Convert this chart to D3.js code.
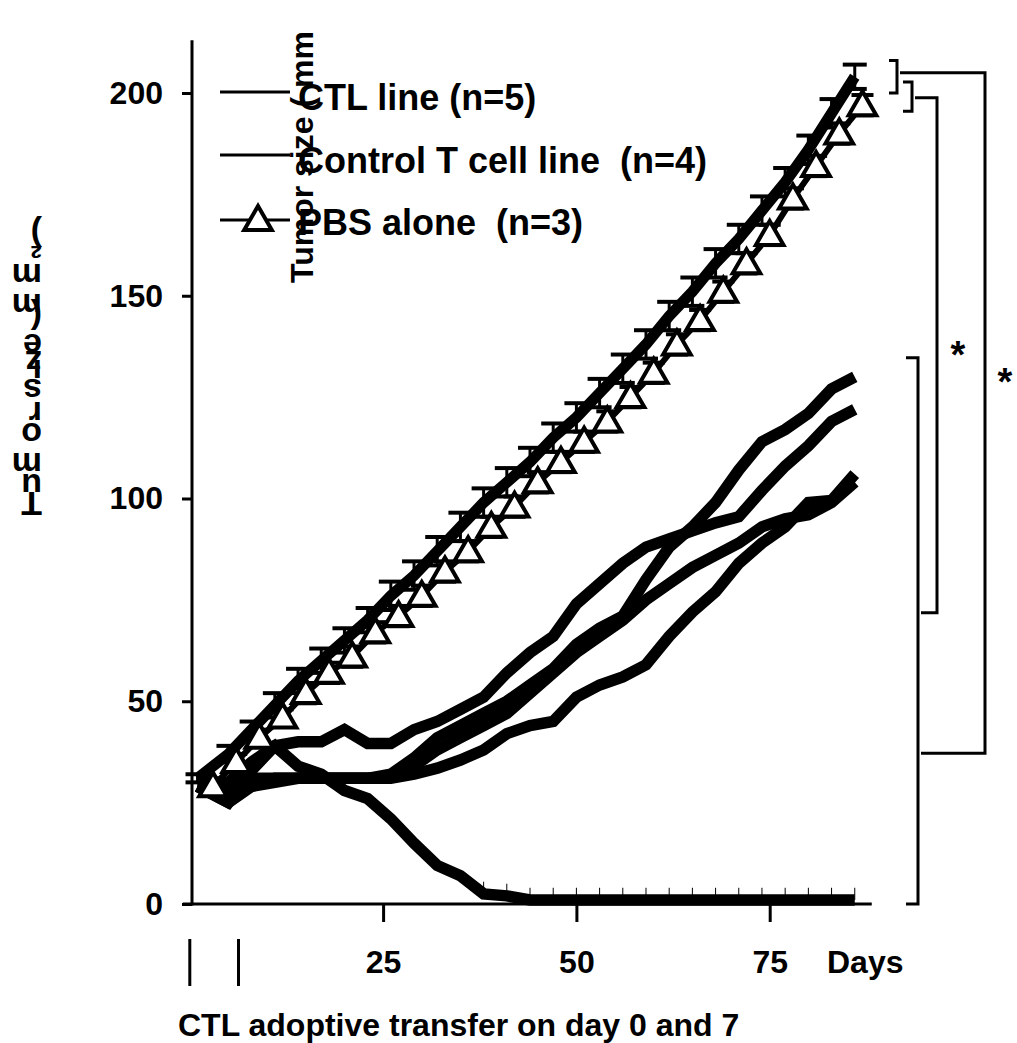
<!DOCTYPE html>
<html>
<head>
<meta charset="utf-8">
<script src="https://cdn.jsdelivr.net/npm/d3@7"></script>
<style>
  body { margin: 0; background: #fff; }
  text { font-family: "Liberation Sans", Arial, sans-serif; font-weight: bold; fill: #000; white-space: pre; }
</style>
</head>
<body>
<div id="chart"></div>
<script>
// measurement days (CTL / control T cell line) and PBS days
const days = [1, 5, 8, 11, 14, 17, 20, 23, 26, 29, 32, 35, 38, 41, 44, 47, 50, 53, 56, 59, 62, 65, 68, 71, 74, 77, 80, 83, 86];
const pbsDays = [3, 6, 9, 12, 15, 18, 21, 24, 27, 30, 33, 36, 39, 42, 45, 48, 51, 54, 57, 60, 63, 66, 69, 72, 75, 78, 81, 84, 87];

// CTL line, individual mice (n=5)
const ctlB = [29, 25, 33, 39, 40, 40, 43, 39.6, 39.6, 43, 45, 48, 51, 57, 62, 66, 74, 79, 84, 88, 90, 92, 94, 95.5, 102, 108, 113, 119, 122];
const ctlM2 = [29, 25, 29, 31, 31, 31, 31, 31, 32, 36, 41, 44, 47, 50, 54, 58, 64, 68, 71, 80, 88, 93, 99, 107, 114, 117, 121, 127, 130];
const ctlM1 = [29, 27, 29, 30, 31, 31, 31, 31, 31.4, 34, 38, 41, 44, 47, 52, 57, 62, 66, 70, 75, 79, 83, 86, 89, 93, 95, 96, 99, 104];
const ctlF = [29, 28, 31, 31, 31, 31, 31, 31, 31, 32, 33.5, 35.5, 38, 42, 44, 45, 51, 54, 56, 59, 66, 72, 77, 84, 89, 93, 99, 99.5, 106];
const ctlR = [29, 30, 35, 39, 34, 32, 28, 26, 21, 15, 9.5, 7, 2.5, 2, 1, 1, 1, 1, 1, 1, 1, 1, 1, 1, 1, 1, 1, 1, 1];
const ctlRErr = [0, 0, 0, 0, 0, 0, 0, 0, 0, 0, 0, 0, 2, 2, 2, 2, 2, 2, 2, 2, 2, 2, 2, 2, 2, 2, 2, 2, 2];

// Control T cell line mean (n=4) and PBS alone mean (n=3)
const controlMean = [31, 37, 43, 49, 55, 60, 65, 70, 76, 81, 87, 93, 99, 104, 109, 115, 120, 126, 132, 138, 145, 151, 158, 164, 171, 178, 186, 195, 204];
const controlErr = [1, 2, 2, 3, 3, 3, 3, 3, 3.5, 3.5, 3.5, 3.5, 3.5, 3.5, 3.5, 3.5, 3.5, 3.5, 3.5, 3.5, 3.5, 3.5, 3.5, 3.5, 3.5, 3.5, 3.5, 3.5, 3];
const pbsMean = [29, 35, 41, 46, 52, 57, 61, 67, 71, 76, 82, 87, 93, 98, 104, 109, 114, 119, 125, 131, 138, 144, 151, 158, 165, 174, 182, 190, 197];
const pbsErr = [2, 2, 2, 2, 2.5, 2.5, 2.5, 2.5, 2.5, 2.5, 2.5, 2.5, 2.5, 2.5, 2.5, 2.5, 2.5, 2.5, 2.5, 2.5, 2.5, 2.5, 2.5, 2.5, 2.5, 2.5, 2.5, 2.5, 2.5];

const yTicks = [0, 50, 100, 150, 200];
const xTicks = [25, 50, 75];
const transferDays = [0, 6.3];
const legendLabels = ["CTL line (n=5)", "Control T cell line  (n=4)", "PBS alone  (n=3)"];

// significance brackets (values on the y scale)
const bracketSpans = [[200, 208], [195.5, 202.7], [0, 134.7]];
const linkLevels = [[205, 37.2], [198.8, 71.8]];

const width = 1017, height = 1043;
const svg = d3.select("#chart").append("svg")
  .attr("width", width).attr("height", height);

const x = d3.scaleLinear().domain([0, 75]).range([189.8, 769.7]);
const y = d3.scaleLinear().domain([0, 200]).range([904, 93]);

// y axis
const yAxis = svg.append("g")
  .attr("transform", "translate(192,0)")
  .call(d3.axisLeft(y).tickValues(yTicks).tickSize(10).tickPadding(19).tickSizeOuter(0));
yAxis.select(".domain").remove();
yAxis.selectAll("line").attr("stroke-width", 3);
yAxis.selectAll("text").style("font-size", "32px").attr("font-family", null);
svg.append("line")
  .attr("x1", 192).attr("x2", 192)
  .attr("y1", y(213)).attr("y2", y(0) + 1.5)
  .attr("stroke", "#000").attr("stroke-width", 3);

// x axis
const xAxis = svg.append("g")
  .attr("transform", "translate(0," + y(0) + ")")
  .call(d3.axisBottom(x).tickValues(xTicks).tickSize(18).tickPadding(28).tickSizeOuter(0));
xAxis.select(".domain").remove();
xAxis.selectAll("line").attr("stroke-width", 3);
xAxis.selectAll("text").style("font-size", "32px").attr("font-family", null);
svg.append("line")
  .attr("x1", x(-0.9)).attr("x2", x(88.2))
  .attr("y1", y(0)).attr("y2", y(0))
  .attr("stroke", "#000").attr("stroke-width", 3);
svg.append("text")
  .attr("x", 827).attr("y", 973)
  .style("font-size", "32px")
  .text("Days");

// adoptive transfer marks
svg.selectAll(".transfer")
  .data(transferDays)
  .enter().append("line")
  .attr("x1", d => x(d)).attr("x2", d => x(d))
  .attr("y1", 939).attr("y2", 986)
  .attr("stroke", "#000").attr("stroke-width", 3);

svg.append("text")
  .attr("x", 178).attr("y", 1036)
  .style("font-size", "32px")
  .text("CTL adoptive transfer on day 0 and 7");

const line = d3.line()
  .x(d => x(d[0]))
  .y(d => y(d[1]));

// regressing CTL mouse: small error ticks
svg.selectAll(".errR")
  .data(days.map((d, i) => [d, ctlR[i], ctlRErr[i]]).filter(d => d[2] > 0))
  .enter().append("line")
  .attr("x1", d => x(d[0])).attr("x2", d => x(d[0]))
  .attr("y1", d => y(d[1])).attr("y2", d => y(d[1] + d[2] + 1))
  .attr("stroke", "#000").attr("stroke-width", 1);

// CTL individual lines
[ctlR, ctlF, ctlM1, ctlM2, ctlB].forEach(function (series) {
  svg.append("path")
    .datum(days.map((d, i) => [d, series[i]]))
    .attr("d", line)
    .attr("fill", "none")
    .attr("stroke", "#000")
    .attr("stroke-width", 11.5)
    .attr("stroke-linejoin", "miter");
});

// control T cell line mean with error bars
const ctrl = days.map((d, i) => [d, controlMean[i], controlErr[i]]);
const pbs = pbsDays.map((d, i) => [d, pbsMean[i], pbsErr[i]]);

function errorBars(data, cls, capW) {
  const g = svg.append("g").attr("class", cls);
  g.selectAll(".v").data(data).enter().append("line")
    .attr("x1", d => x(d[0])).attr("x2", d => x(d[0]))
    .attr("y1", d => y(d[1] - d[2])).attr("y2", d => y(d[1] + d[2]))
    .attr("stroke", "#000").attr("stroke-width", 3);
  g.selectAll(".top").data(data).enter().append("line")
    .attr("x1", d => x(d[0]) - capW / 2).attr("x2", d => x(d[0]) + capW / 2)
    .attr("y1", d => y(d[1] + d[2])).attr("y2", d => y(d[1] + d[2]))
    .attr("stroke", "#000").attr("stroke-width", 4);
  g.selectAll(".bot").data(data).enter().append("line")
    .attr("x1", d => x(d[0]) - capW / 2).attr("x2", d => x(d[0]) + capW / 2)
    .attr("y1", d => y(d[1] - d[2])).attr("y2", d => y(d[1] - d[2]))
    .attr("stroke", "#000").attr("stroke-width", 4);
}

errorBars(ctrl, "ctrlErr", 24);
svg.append("path")
  .datum(ctrl)
  .attr("d", line)
  .attr("fill", "none")
  .attr("stroke", "#000")
  .attr("stroke-width", 11);

// PBS mean with triangles
errorBars(pbs, "pbsErr", 22);
svg.append("path")
  .datum(pbs)
  .attr("d", line)
  .attr("fill", "none")
  .attr("stroke", "#000")
  .attr("stroke-width", 6);

const tri = d3.symbol().type(d3.symbolTriangle).size(330);
svg.selectAll(".tri")
  .data(pbs)
  .enter().append("path")
  .attr("transform", d => "translate(" + x(d[0]) + "," + (y(d[1]) + 2) + ")")
  .attr("d", tri)
  .attr("fill", "#fff")
  .attr("stroke", "#000")
  .attr("stroke-width", 4);

// legend
const legend = svg.append("g");
legendLabels.forEach(function (label, i) {
  const ly = [92, 155, 220][i];
  legend.append("line")
    .attr("x1", 220).attr("x2", 290)
    .attr("y1", ly).attr("y2", ly)
    .attr("stroke", "#000").attr("stroke-width", 3);
  if (i === 2) {
    legend.append("path")
      .attr("transform", "translate(258," + (ly + 2) + ")")
      .attr("d", tri)
      .attr("fill", "#fff")
      .attr("stroke", "#000")
      .attr("stroke-width", 4);
  }
  legend.append("text")
    .attr("x", 298).attr("y", [110, 173, 235][i])
    .style("font-size", "36px")
    .text(label);
});

// y axis titles (as in the source figure)
svg.append("text")
  .attr("transform", "translate(313,283) rotate(-90)")
  .style("font-size", "32px")
  .text("Tumor size ( mm");

// second copy of the title: glyphs stacked bottom-to-top, each turned upside down
const titleText = "Tumor size (mm\u00B2)";
const probe = svg.append("text").style("font-size", "34px").text(titleText);
const advances = d3.range(titleText.length).map(i => probe.node().getStartPositionOfChar(i).x);
probe.remove();
const yTitle = svg.append("g").attr("transform", "translate(42,492)");
titleText.split("").forEach(function (ch, i) {
  yTitle.append("text")
    .attr("transform", "translate(0," + (-advances[i]) + ") rotate(180)")
    .style("font-size", "34px")
    .text(ch);
});

// significance brackets
const bx = [897, 912, 918];
const bTick = [8, 9, 12];
bracketSpans.forEach(function (s, i) {
  svg.append("path")
    .attr("d", "M" + (bx[i] - bTick[i]) + "," + y(s[1]) + "H" + bx[i] + "V" + y(s[0]) + "H" + (bx[i] - bTick[i]))
    .attr("fill", "none").attr("stroke", "#000").attr("stroke-width", 3);
});
const linkX = [985, 937];
const linkStart = [900, 915];
linkLevels.forEach(function (l, i) {
  svg.append("path")
    .attr("d", "M" + linkStart[i] + "," + y(l[0]) + "H" + linkX[i] + "V" + y(l[1]) + "H" + 921)
    .attr("fill", "none").attr("stroke", "#000").attr("stroke-width", 3);
});
svg.append("text").attr("x", 958).attr("y", 368).attr("text-anchor", "middle")
  .style("font-size", "38px").text("*");
svg.append("text").attr("x", 1005).attr("y", 395).attr("text-anchor", "middle")
  .style("font-size", "38px").text("*");
</script>
</body>
</html>
